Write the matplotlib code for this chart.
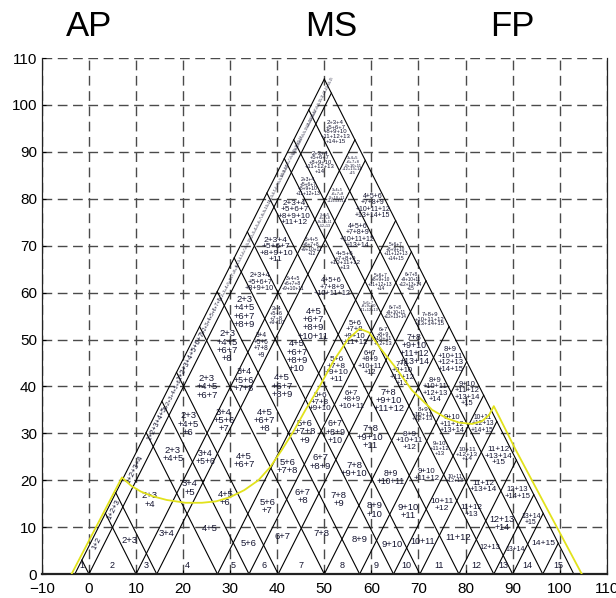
import numpy as np
import matplotlib
matplotlib.use("Agg")
import matplotlib.pyplot as plt

plt.rcParams['font.family'] = ['Liberation Sans', 'DejaVu Sans']

# zone corners along the base line (outer left corner, shared vertices, outer right corner)
base_x = [-3.0, 0.0, 10.0, 14.4, 27.3, 34.0, 40.2, 50.0, 57.5,
          64.7, 70.3, 78.6, 86.0, 90.0, 96.4, 103.0]
apex_y = 105.5
zone_ids = list(range(1, 16))

# stability boundary traced over the diagram
boundary_x = [-3.7, 7.0, 9.0, 11.0, 13.5, 16.5, 20.5, 24.0, 27.0, 30.0, 33.0,
              36.0, 38.5, 41.0, 43.5, 46.0, 49.0, 52.0, 55.0, 57.5, 59.5, 62.0,
              65.0, 68.6, 72.9, 76.0, 78.6, 81.4, 83.5, 85.0, 86.0, 90.7, 104.7]
boundary_y = [0.0, 20.6, 18.8, 17.6, 16.6, 15.8, 15.2, 15.2, 15.5, 16.4, 17.9,
              20.0, 22.8, 26.5, 30.5, 35.0, 40.0, 45.5, 50.0, 52.3, 51.5, 48.0,
              44.2, 39.2, 35.0, 33.2, 32.3, 32.0, 32.6, 33.9, 35.8, 26.4, 0.0]

corner_names = ['AP', 'MS', 'FP']
corner_name_x = [0.0, 51.5, 90.0]

x_ticks = np.arange(-10, 111, 10)
y_ticks = np.arange(0, 111, 10)

v = np.array(base_x)
slope = apex_y / ((v[-1] - v[0]) / 2)
px_per_unit = 4.7
text_color = '#141430'

fig = plt.figure(figsize=(6.16, 5.98), dpi=100)
ax = fig.add_axes([0.068, 0.040, 0.917, 0.863])
ax.set_xlim(-10, 110)
ax.set_ylim(0, 110)

# dashed background grid
ax.set_xticks(x_ticks)
ax.set_yticks(y_ticks)
ax.grid(True, linestyle=(0, (7, 4)), color='#4a4a4a', linewidth=1.0, zorder=0)
ax.set_axisbelow(True)
ax.tick_params(direction='in', length=3, labelsize=11, colors='black')
ax.tick_params(axis='x', pad=6)
for side in ['left', 'bottom', 'right']:
    ax.spines[side].set_color('#222222')
    ax.spines[side].set_linewidth(0.9)
ax.spines['bottom'].set_linewidth(1.6)
ax.spines['top'].set_visible(False)

# rising lines run to the right edge, falling lines to the left edge
for k in range(len(v) - 1):
    xe = (v[k] + v[-1]) / 2
    ye = slope * (v[-1] - v[k]) / 2
    ax.plot([v[k], xe], [0, ye], color='black', lw=0.8, zorder=2)
for k in range(1, len(v)):
    xe = (v[0] + v[k]) / 2
    ye = slope * (v[k] - v[0]) / 2
    ax.plot([v[k], xe], [0, ye], color='black', lw=0.8, zorder=2)

angle = np.degrees(np.arctan(slope))

# zone combinations: cell (i, j) lies where rising strip i meets falling strip j
for i in zone_ids:
    for j in zone_ids:
        if j < i:
            continue
        a0, a1 = v[i - 1], v[i]
        b0, b1 = v[j - 1], v[j]
        wi, wj = a1 - a0, b1 - b0
        if i == j:
            ax.text((a0 + a1) / 2, 1.8, str(i), fontsize=6.5, ha='center',
                    va='center', color=text_color, zorder=3)
            continue
        cx = (a0 + a1 + b0 + b1) / 4
        cy = slope * (b0 + b1 - a0 - a1) / 4
        tokens = [str(k) for k in range(i, j + 1)]
        if min(wi, wj) < 3.5:
            label = '+'.join(tokens)
            narrow, other = (wi, wj) if wi <= wj else (wj, wi)
            rot = angle if wi <= wj else -angle
            length_px = 1.12 * other * px_per_unit * 0.95
            fs = length_px / (len(label) * 0.52 * 1.389)
            fs = min(fs, narrow * 0.89 * px_per_unit * 0.75 / 1.389, 5.5)
            fs = max(fs, 2.0)
            ax.text(cx, cy, label, fontsize=fs, rotation=rot, ha='center',
                    va='center', color=text_color, zorder=3)
            continue
        per_row = 2 if len(tokens) <= 8 else 3
        rows = [tokens[r:r + per_row] for r in range(0, len(tokens), per_row)]
        lines = ['+'.join(rows[0])] + ['+' + '+'.join(r) for r in rows[1:]]
        label = '\n'.join(lines)
        widest = max(len(s) for s in lines)
        avail_w = (wi + wj) / 2 * px_per_unit * 0.72
        avail_h = slope * (wi + wj) / 2 * px_per_unit * 0.48
        fs = min(6.8,
                 avail_w / (widest * 0.52 * 1.389),
                 avail_h / (len(lines) * 1.389 * 1.0))
        fs = max(fs, 2.5)
        ax.text(cx, cy, label, fontsize=fs, ha='center', va='center',
                linespacing=0.9, color=text_color, zorder=3)

ax.plot(boundary_x, boundary_y, color='#e2e21c', lw=1.3, zorder=4)

for name, xn in zip(corner_names, corner_name_x):
    ax.text(xn, 116.8, name, fontsize=25, ha='center', va='center',
            color='black', clip_on=False)

fig.savefig('out.png', dpi=100)
